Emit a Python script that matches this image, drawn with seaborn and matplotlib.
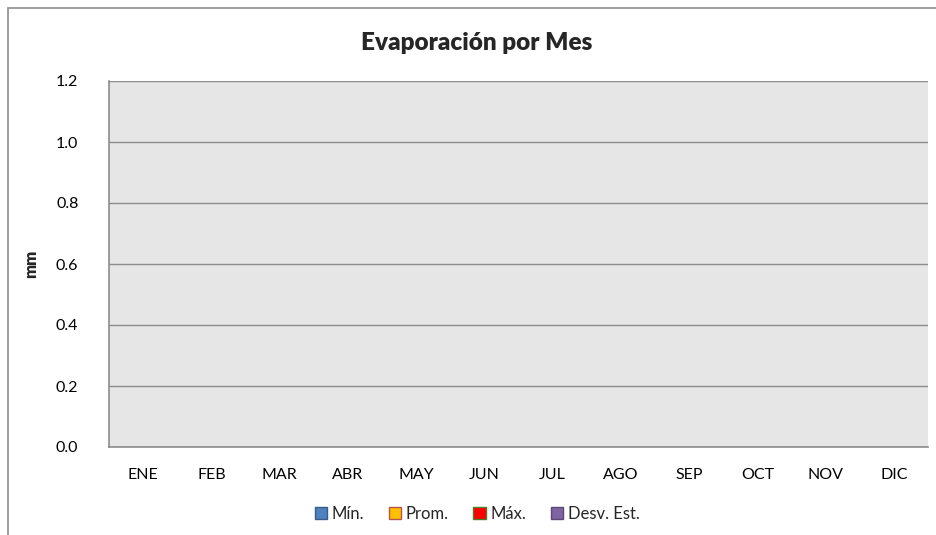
import numpy as np
import pandas as pd
import seaborn as sns
import matplotlib.pyplot as plt
from matplotlib.patches import Patch, Rectangle

# datos
meses = ['ENE', 'FEB', 'MAR', 'ABR', 'MAY', 'JUN', 'JUL', 'AGO', 'SEP', 'OCT', 'NOV', 'DIC']
minimo = [0, 0, 0, 0, 0, 0, 0, 0, 0, 0, 0, 0]
promedio = [0, 0, 0, 0, 0, 0, 0, 0, 0, 0, 0, 0]
maximo = [0, 0, 0, 0, 0, 0, 0, 0, 0, 0, 0, 0]
desv_est = [0, 0, 0, 0, 0, 0, 0, 0, 0, 0, 0, 0]
series = ['Mín.', 'Prom.', 'Máx.', 'Desv. Est.']
colores = ['#4F81BD', '#FFC000', '#FF0000', '#8064A2']
bordes = ['#385D8A', '#B85450', '#4F7A28', '#5C4776']

df = pd.DataFrame({
    'mes': meses * 4,
    'serie': sum([[s] * 12 for s in series], []),
    'valor': minimo + promedio + maximo + desv_est,
})

sns.set_style('white')
plt.rcParams['font.family'] = ['Lato', 'DejaVu Sans']

fig = plt.figure(figsize=(9.36, 5.35), dpi=100)
W, H = 936, 535
ax = fig.add_axes([109 / W, 1 - 447 / H, (928 - 109) / W, (447 - 81) / H])

sns.barplot(data=df, x='mes', y='valor', hue='serie', hue_order=series,
            palette=colores, ax=ax, linewidth=0, legend=False)

ax.set_facecolor('#E6E6E6')
ax.set_ylim(0, 1.2)
ax.set_yticks(np.arange(0, 1.21, 0.2))
ax.set_yticklabels([f'{v:.1f}' for v in np.arange(0, 1.21, 0.2)])
ax.grid(axis='y', color='#8C8C8C', linewidth=1)
ax.set_axisbelow(True)
for s in ['top', 'right']:
    ax.spines[s].set_visible(False)
for s in ['left', 'bottom']:
    ax.spines[s].set_color('#8C8C8C')
    ax.spines[s].set_linewidth(1.2)
ax.tick_params(axis='y', length=6, width=1, color='#8C8C8C', direction='out',
               pad=16, labelsize=11.5, labelcolor='black')
ax.tick_params(axis='x', length=0, pad=15, labelsize=11.5, labelcolor='black')
ax.set_xlabel('')
ax.set_ylabel('mm', fontsize=12, fontweight='heavy', labelpad=12)

fig.text(477 / W, 1 - 43 / H, 'Evaporación por Mes', ha='center', va='center',
         fontsize=17.5, fontweight='heavy')

handles = [Patch(facecolor=c, edgecolor=b, linewidth=1) for c, b in zip(colores, bordes)]
fig.legend(handles, series, loc='center', bbox_to_anchor=(477 / W, 1 - 514 / H),
           ncol=4, frameon=False, fontsize=12, handlelength=0.75, handleheight=0.75,
           handletextpad=0.25, columnspacing=1.5)

# borde del área del gráfico
fig.patches.append(Rectangle((8 / W, -0.1), 1.2, 1 - 8 / H + 0.1, transform=fig.transFigure,
                             fill=False, edgecolor='#8C8C8C', linewidth=1.2))

fig.savefig('out.png', dpi=100)
